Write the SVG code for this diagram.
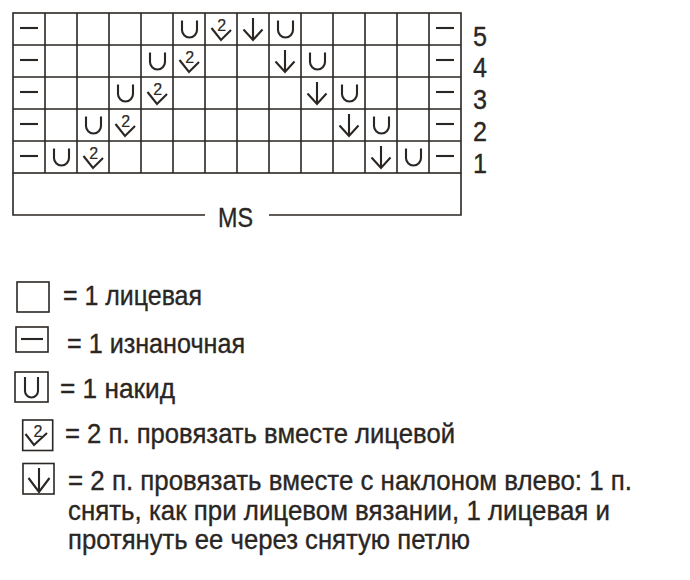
<svg xmlns="http://www.w3.org/2000/svg" width="690" height="580" viewBox="0 0 690 580">
<defs>
<style>
.ln{stroke:#2a2623;stroke-width:1.6;fill:none}
.sy{stroke:#2a2623;stroke-width:2.1;fill:none;stroke-linecap:butt;stroke-linejoin:miter}
.tx{font-family:"Liberation Sans",Arial,sans-serif;font-size:28px;fill:#2a2623;stroke:#2a2623;stroke-width:0.35}
.t2{font-family:"Liberation Sans",Arial,sans-serif;font-size:16px;fill:#2a2623;text-anchor:middle;stroke:#2a2623;stroke-width:0.2}
</style>
<g id="dash"><line class="sy" x1="7" y1="15" x2="25" y2="15"/></g>
<g id="yo"><path class="sy" d="M9,7.5 V17 A7.5,7.5 0 0 0 24,17 V7.5"/></g>
<g id="k2"><polyline class="sy" points="6.5,15 16,27 26,17"/><text class="t2" x="16.8" y="18">2</text></g>
<g id="ssk"><line class="sy" x1="16" y1="5" x2="16" y2="27"/><polyline class="sy" points="6.5,16.5 16,27 25.5,16.5"/></g>
</defs>
<rect width="690" height="580" fill="#ffffff"/>

<g id="chart">
<g id="grid">
<rect class="ln" x="13" y="13" width="448" height="160"/>
<path class="ln" d="M45,13V173M77,13V173M109,13V173M141,13V173M173,13V173M205,13V173M237,13V173M269,13V173M301,13V173M333,13V173M365,13V173M397,13V173M429,13V173"/>
<path class="ln" d="M13,45H461M13,77H461M13,109H461M13,141H461"/>
<path class="ln" d="M13,173V215H205M269,215H461V173"/>
</g>
<g id="row5">
<use href="#dash" x="13" y="13"/><use href="#yo" x="173" y="13"/><use href="#k2" x="205" y="13"/><use href="#ssk" x="237" y="13"/><use href="#yo" x="269" y="13"/><use href="#dash" x="429" y="13"/>
</g>
<g id="row4">
<use href="#dash" x="13" y="45"/><use href="#yo" x="141" y="45"/><use href="#k2" x="173" y="45"/><use href="#ssk" x="269" y="45"/><use href="#yo" x="301" y="45"/><use href="#dash" x="429" y="45"/>
</g>
<g id="row3">
<use href="#dash" x="13" y="77"/><use href="#yo" x="109" y="77"/><use href="#k2" x="141" y="77"/><use href="#ssk" x="301" y="77"/><use href="#yo" x="333" y="77"/><use href="#dash" x="429" y="77"/>
</g>
<g id="row2">
<use href="#dash" x="13" y="109"/><use href="#yo" x="77" y="109"/><use href="#k2" x="109" y="109"/><use href="#ssk" x="333" y="109"/><use href="#yo" x="365" y="109"/><use href="#dash" x="429" y="109"/>
</g>
<g id="row1">
<use href="#dash" x="13" y="141"/><use href="#yo" x="45" y="141"/><use href="#k2" x="77" y="141"/><use href="#ssk" x="365" y="141"/><use href="#yo" x="397" y="141"/><use href="#dash" x="429" y="141"/>
</g>
<g id="rownums">
<text class="tx" x="473" y="46" textLength="14" lengthAdjust="spacingAndGlyphs">5</text>
<text class="tx" x="473" y="77" textLength="14" lengthAdjust="spacingAndGlyphs">4</text>
<text class="tx" x="473" y="109" textLength="14" lengthAdjust="spacingAndGlyphs">3</text>
<text class="tx" x="473" y="141" textLength="14" lengthAdjust="spacingAndGlyphs">2</text>
<text class="tx" x="473" y="173" textLength="14" lengthAdjust="spacingAndGlyphs">1</text>
</g>
<g id="ms"><text class="tx" x="218" y="227" font-size="29" textLength="35" lengthAdjust="spacingAndGlyphs">MS</text></g>
</g>

<g id="legend">
<g id="leg-knit">
<rect class="ln" x="17" y="282" width="32" height="30"/>
<text class="tx" x="63" y="305" textLength="139" lengthAdjust="spacingAndGlyphs">= 1 лицевая</text>
</g>
<g id="leg-purl">
<rect class="ln" x="16" y="327" width="32" height="25"/>
<line class="sy" x1="21" y1="339" x2="43" y2="339"/>
<text class="tx" x="67" y="353" textLength="178" lengthAdjust="spacingAndGlyphs">= 1 изнаночная</text>
</g>
<g id="leg-yo">
<rect class="ln" x="15" y="372" width="33" height="30"/>
<path class="sy" d="M25,377 V391 A6.5,6.5 0 0 0 38,391 V377"/>
<text class="tx" x="60" y="398" textLength="115" lengthAdjust="spacingAndGlyphs">= 1 накид</text>
</g>
<g id="leg-k2">
<rect class="ln" x="22.7" y="420" width="30" height="30.5"/>
<polyline class="sy" points="25.5,434 34,445 47,433"/>
<text class="t2" x="38" y="436.5" font-size="16">2</text>
<text class="tx" x="65" y="443" textLength="390" lengthAdjust="spacingAndGlyphs">= 2 п. провязать вместе лицевой</text>
</g>
<g id="leg-ssk">
<rect class="ln" x="23" y="463.5" width="31" height="30.5"/>
<line class="sy" x1="39" y1="468" x2="39" y2="492"/>
<polyline class="sy" points="28.5,478 39,492 49.5,478"/>
<text class="tx" x="68" y="490" textLength="564" lengthAdjust="spacingAndGlyphs">= 2 п. провязать вместе с наклоном влево: 1 п.</text>
<text class="tx" x="68" y="520" textLength="542" lengthAdjust="spacingAndGlyphs">снять, как при лицевом вязании, 1 лицевая и</text>
<text class="tx" x="68" y="549" textLength="402" lengthAdjust="spacingAndGlyphs">протянуть ее через снятую петлю</text>
</g>
</g>
</svg>
